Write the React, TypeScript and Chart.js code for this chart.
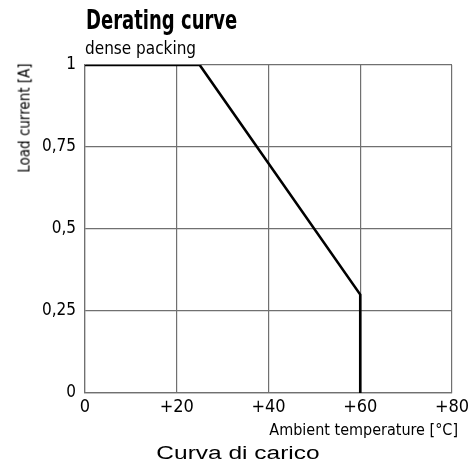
import React, { useEffect, useRef } from "react";
import { Chart, registerables } from "chart.js";

Chart.register(...registerables);

const temperatures = [0, 25, 60, 60];
const loadCurrent = [1, 1, 0.3, 0];
const xTicks = [0, 20, 40, 60, 80];
const yTicks = [0, 0.25, 0.5, 0.75, 1];
const xTickLabels = ["0", "+20", "+40", "+60", "+80"];
const yTickLabels = ["0", "0,25", "0,5", "0,75", "1"];

const NARROW = '"Liberation Sans Narrow", "DejaVu Sans Condensed", "Roboto Condensed", sans-serif';
const GRID = "#707070";

export default function App() {
  const ref = useRef<HTMLCanvasElement | null>(null);

  useEffect(() => {
    if (!ref.current) return;
    const chart = new Chart(ref.current, {
      type: "scatter",
      data: {
        datasets: [
          {
            data: temperatures.map((t, i) => ({ x: t, y: loadCurrent[i] })),
            showLine: true,
            borderColor: "#000",
            borderWidth: 2.6,
            pointRadius: 0,
            fill: false,
          },
        ],
      },
      options: {
        animation: false,
        responsive: false,
        maintainAspectRatio: false,
        layout: { padding: { left: 0, top: 65, right: 16, bottom: 0 } },
        plugins: { legend: { display: false }, tooltip: { enabled: false } },
        scales: {
          x: {
            type: "linear",
            min: 0,
            max: 80,
            afterFit: (s: any) => { s.height = 80; s.paddingRight = 0; s.paddingLeft = 0; },
            afterBuildTicks: (s: any) => { s.ticks = xTicks.map((v) => ({ value: v })); },
            border: { color: GRID, width: 1.2 },
            grid: { color: GRID, lineWidth: 1.2, drawTicks: false },
            ticks: {
              color: "#000",
              padding: 4,
              maxRotation: 0,
              font: { family: NARROW, size: 18 },
              callback: (v: any) => { const i = xTicks.indexOf(Number(v)); return i >= 0 ? xTickLabels[i] : ""; },
            },
          },
          y: {
            type: "linear",
            min: 0,
            max: 1,
            afterFit: (s: any) => { s.width = 85; s.paddingTop = 0; s.paddingBottom = 0; },
            afterBuildTicks: (s: any) => { s.ticks = yTicks.map((v) => ({ value: v })); },
            border: { color: GRID, width: 1.2 },
            grid: { color: GRID, lineWidth: 1.2, drawTicks: false },
            ticks: {
              color: "#000",
              padding: 9,
              font: { family: NARROW, size: 17 },
              callback: (v: any) => { const i = yTicks.indexOf(Number(v)); return i >= 0 ? yTickLabels[i] : ""; },
            },
          },
        },
      },
    });
    return () => chart.destroy();
  }, []);

  const base: React.CSSProperties = { position: "absolute", lineHeight: 1, whiteSpace: "nowrap", color: "#000" };

  return (
    <div style={{ position: "fixed", left: 0, top: 0, width: 468, height: 473, background: "#fff" }}>
      <canvas ref={ref} width={468} height={473} style={{ position: "absolute", left: 0, top: 0, width: 468, height: 473 }} />
      <div style={{ ...base, left: 86, top: 7, fontFamily: NARROW, fontWeight: "bold", fontSize: 26, transform: "scaleX(0.77)", transformOrigin: "0 0" }}>Derating curve</div>
      <div style={{ ...base, left: 85, top: 40, fontFamily: NARROW, fontSize: 17 }}>dense packing</div>
      <div style={{ ...base, left: 25, top: 118, fontFamily: NARROW, fontSize: 15, transform: "translate(-50%, -50%) rotate(-90deg)" }}>Load current [A]</div>
      <div style={{ ...base, right: 10, top: 422, fontFamily: NARROW, fontSize: 16 }}>Ambient temperature [°C]</div>
      <div style={{ ...base, left: 238, top: 444, fontFamily: '"Liberation Sans", Arial, sans-serif', fontSize: 18, transform: "translateX(-50%) scaleX(1.36)" }}>Curva di carico</div>
    </div>
  );
}
